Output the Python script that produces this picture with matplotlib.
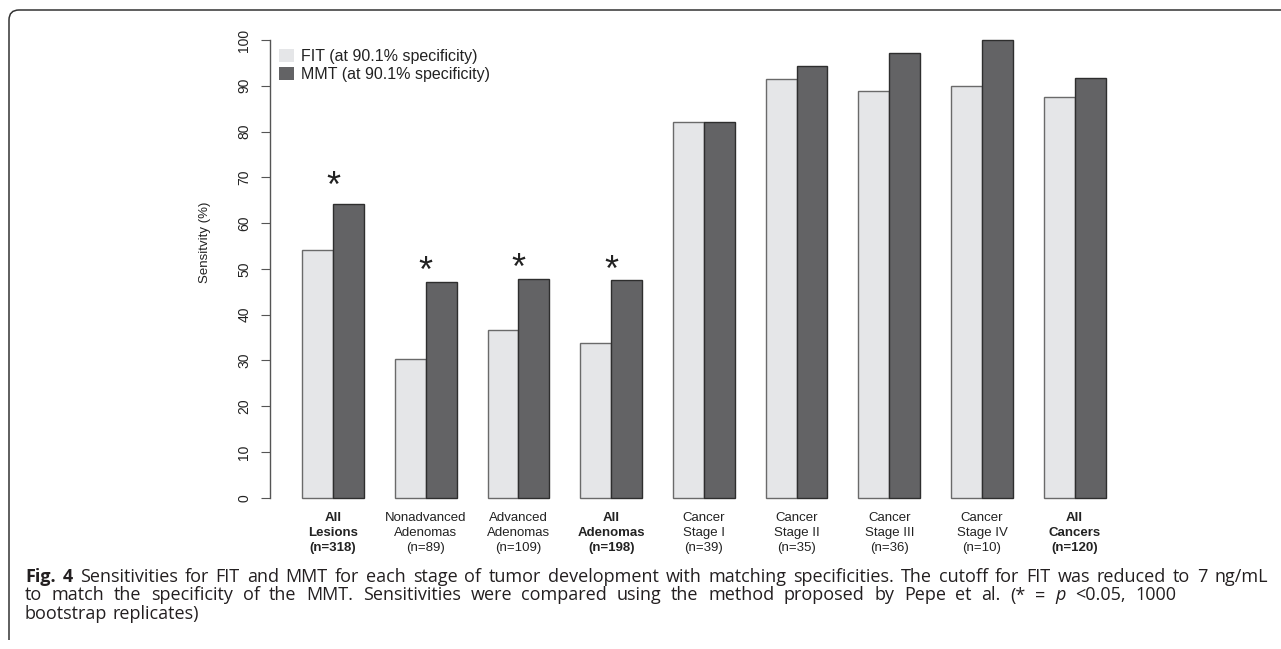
import numpy as np
import matplotlib
matplotlib.use("Agg")
import matplotlib.pyplot as plt
from matplotlib import font_manager
from matplotlib.patches import Patch, PathPatch
from matplotlib.path import Path

# ---------------- data ----------------
cat_line1 = ["All", "Nonadvanced", "Advanced", "All", "Cancer", "Cancer", "Cancer", "Cancer", "All"]
cat_line2 = ["Lesions", "Adenomas", "Adenomas", "Adenomas", "Stage I", "Stage II", "Stage III", "Stage IV", "Cancers"]
cat_n = ["(n=318)", "(n=89)", "(n=109)", "(n=198)", "(n=39)", "(n=35)", "(n=36)", "(n=10)", "(n=120)"]
cat_bold = [True, False, False, True, False, False, False, False, True]

fit_sens = [54.1, 30.3, 36.7, 33.8, 82.1, 91.4, 88.9, 90.0, 87.5]
mmt_sens = [64.2, 47.2, 47.7, 47.5, 82.1, 94.3, 97.2, 100.0, 91.7]
significant = [True, True, True, True, False, False, False, False, False]
star_height = [70.2, 51.7, 52.3, 51.9, None, None, None, None, None]

legend_labels = ["FIT (at 90.1% specificity)", "MMT (at 90.1% specificity)"]
y_ticks = [0, 10, 20, 30, 40, 50, 60, 70, 80, 90, 100]
y_label = "Sensitvity (%)"

# caption words: (text, weight, style)
caption_line1 = [("Fig.", "bold", "normal"), ("4", "bold", "normal")] + [
    (w, "normal", "normal") for w in
    "Sensitivities for FIT and MMT for each stage of tumor development with matching specificities. The cutoff for FIT was reduced to 7 ng/mL".split()]
caption_line2 = [(w, "normal", "normal") for w in
                 "to match the specificity of the MMT. Sensitivities were compared using the method proposed by Pepe et al. (* =".split()] + [
    ("p", "normal", "italic"), ("<0.05,", "normal", "normal"), ("1000", "normal", "normal")]
caption_line3 = [(w, "normal", "normal") for w in "bootstrap replicates)".split()]

# ---------------- style ----------------
W, H = 1281, 649
fit_color = "#e5e6e8"
mmt_color = "#636365"
fit_edge = "#6a6a6a"
mmt_edge = "#2e2e2e"
axis_color = "#555555"
text_color = "#222222"

names = {f.name for f in font_manager.fontManager.ttflist}
chart_font = "Liberation Sans" if "Liberation Sans" in names else "DejaVu Sans"
cap_font = next((n for n in ["Open Sans", "Noto Sans", "Lato", "Liberation Sans"] if n in names), "DejaVu Sans")

plt.rcParams["font.family"] = [chart_font, "DejaVu Sans"]

fig = plt.figure(figsize=(W / 100, H / 100), dpi=100)
fig.patch.set_facecolor("white")

ax_left, ax_right, ax_top, ax_bottom = 270, 1137.7, 21.7, 516.0
ax = fig.add_axes([ax_left / W, 1 - ax_bottom / H, (ax_right - ax_left) / W, (ax_bottom - ax_top) / H])

n = len(fit_sens)
group = np.arange(n)
fit_x = 3 * group + 1
mmt_x = fit_x + 1

ax.bar(fit_x, fit_sens, width=1, align="edge", color=fit_color, edgecolor=fit_edge, linewidth=1.0)
ax.bar(mmt_x, mmt_sens, width=1, align="edge", color=mmt_color, edgecolor=mmt_edge, linewidth=1.0)

ax.set_xlim(-0.04, 28.04)
ax.set_ylim(-4, 104)

for s in ["top", "right", "bottom"]:
    ax.spines[s].set_visible(False)
ax.spines["left"].set_bounds(0, 100)
ax.spines["left"].set_color(axis_color)
ax.spines["left"].set_linewidth(1.0)
ax.set_xticks([])
ax.set_yticks(y_ticks)
ax.set_yticklabels([str(t) for t in y_ticks], rotation=90, va="center")
ax.tick_params(axis="y", length=6.5, width=0.8, color=axis_color, labelcolor=text_color,
               labelsize=10, pad=7)

px_per_unit = (497.7 - 40.0) / 100.0
def py_to_val(py):
    return (497.7 - py) / px_per_unit

# category labels
for i in range(n):
    cx = fit_x[i] + 1
    wt = "bold" if cat_bold[i] else "normal"
    for txt, py in zip([cat_line1[i], cat_line2[i], cat_n[i]], [521, 536, 551]):
        ax.text(cx, py_to_val(py), txt, ha="center", va="baseline", fontsize=9.5,
                fontweight=wt, color=text_color, clip_on=False)

# asterisks
star_size = 26
star_off = 0.58 * star_size * 100 / 72 / px_per_unit
for i in range(n):
    if significant[i]:
        ax.text(fit_x[i] + 1, star_height[i] - star_off, "*", ha="center", va="baseline",
                fontsize=star_size, color=text_color)

# legend
handles = [Patch(facecolor=fit_color, edgecolor="none"), Patch(facecolor=mmt_color, edgecolor="none")]
ax.legend(handles, legend_labels, loc="upper left",
          bbox_to_anchor=(9 / (ax_right - ax_left), (ax_bottom - 49) / (ax_bottom - ax_top)),
          frameon=False, fontsize=11.5, handlelength=0.92, handleheight=0.875,
          handletextpad=0.44, labelspacing=0.2, borderpad=0, borderaxespad=0,
          labelcolor=text_color)

# y label
fig.text(205 / W, 1 - 242 / H, y_label, rotation=90, ha="center", va="center",
         fontsize=9.5, color=text_color)

# frame (top + left with rounded corner)
verts = [(9, 640), (9, 20), (9, 10), (19, 10), (W, 10)]
verts = [(x / W, 1 - y / H) for x, y in verts]
codes = [Path.MOVETO, Path.LINETO, Path.CURVE3, Path.CURVE3, Path.LINETO]
fig.add_artist(PathPatch(Path(verts, codes), transform=fig.transFigure, fill=False,
                         edgecolor="#333333", linewidth=1.1))

# caption, laid out word by word (justified like the reference)
renderer = fig.canvas.get_renderer()
cap_size = 13.0
cap_color = "#231f20"

def measure(txt, weight="normal", style="normal"):
    t = fig.text(0, 0, txt, fontsize=cap_size, family=cap_font, fontweight=weight, fontstyle=style)
    w = t.get_window_extent(renderer).width
    t.remove()
    return w

space_w = measure("n n") - measure("nn")

def draw_line(words, py, x0=25.0, x1=None):
    widths = [measure(w, wt, st) for w, wt, st in words]
    if x1 is None:
        gap = space_w
    else:
        gap = max(space_w, (x1 - x0 - sum(widths)) / (len(words) - 1))
    x = x0
    for (w, wt, st), wd in zip(words, widths):
        fig.text(x / W, 1 - py / H, w, ha="left", va="baseline", fontsize=cap_size,
                 family=cap_font, fontweight=wt, fontstyle=st, color=cap_color)
        x += wd + gap

draw_line(caption_line1, 582.0, x1=1268)
draw_line(caption_line2, 600.5, x1=1176)
draw_line(caption_line3, 619.0)

fig.savefig("out.png", dpi=100, facecolor="white")
